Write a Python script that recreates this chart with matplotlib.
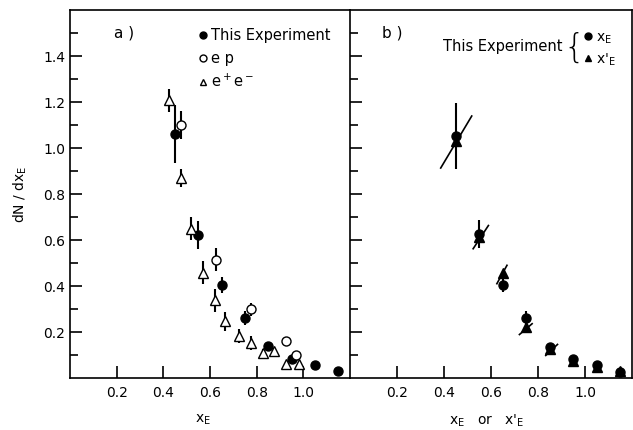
import matplotlib
matplotlib.use('Agg')
import matplotlib.pyplot as plt
from matplotlib.lines import Line2D
import numpy as np

plt.rcParams['font.family'] = ['DejaVu Sans']
plt.rcParams['mathtext.default'] = 'regular'

# panel a) -- this experiment (filled circles)
exp_x = [0.45, 0.55, 0.65, 0.75, 0.85, 0.95, 1.05, 1.15]
exp_y = [1.06, 0.623, 0.405, 0.261, 0.137, 0.084, 0.055, 0.029]
exp_err = [0.125, 0.06, 0.035, 0.03, 0.02, 0.015, 0.012, 0.008]

# e p (open circles)
ep_x = [0.476, 0.625, 0.777, 0.927, 0.97]
ep_y = [1.10, 0.514, 0.298, 0.159, 0.101]
ep_err = [0.06, 0.05, 0.03, 0.02, 0.012]

# e+ e- (open triangles)
ee_x = [0.426, 0.476, 0.52, 0.57, 0.62, 0.665, 0.726, 0.777, 0.826, 0.876, 0.927, 0.98]
ee_y = [1.207, 0.87, 0.649, 0.458, 0.337, 0.246, 0.181, 0.152, 0.109, 0.116, 0.059, 0.059]
ee_err = [0.05, 0.04, 0.05, 0.05, 0.05, 0.04, 0.03, 0.03, 0.015, 0.015, 0.012, 0.012]

# panel b) -- x_E (circles) and x'_E (triangles)
bx = [0.45, 0.55, 0.65, 0.75, 0.85, 0.95, 1.05, 1.15]
bxe_y = [1.052, 0.627, 0.403, 0.261, 0.135, 0.084, 0.055, 0.026]
bxe_err = [0.145, 0.06, 0.03, 0.03, 0.015, 0.012, 0.01, 0.008]
bxp_y = [1.029, 0.615, 0.458, 0.222, 0.128, 0.075, 0.05, 0.032]

# correlated-error lines through the x'_E points
slant_x0 = [0.386, 0.524, 0.625, 0.721, 0.833]
slant_y0 = [0.913, 0.562, 0.41, 0.189, 0.098]
slant_x1 = [0.518, 0.589, 0.668, 0.775, 0.883]
slant_y1 = [1.139, 0.663, 0.49, 0.236, 0.146]

xticks = [0.2, 0.4, 0.6, 0.8, 1.0]
xticklabels = ['0.2', '0.4', '0.6', '0.8', '1.0']
yticks = [0.2, 0.4, 0.6, 0.8, 1.0, 1.2, 1.4]
yticklabels = ['0.2', '0.4', '0.6', '0.8', '1.0', '1.2', '1.4']

fig = plt.figure(figsize=(6.33, 4.3), dpi=100)
ax1 = fig.add_axes([70 / 633, 1 - 378 / 430, 280 / 633, 368 / 430])
ax2 = fig.add_axes([350 / 633, 1 - 378 / 430, 282 / 633, 368 / 430])

fs = 10
for ax in (ax1, ax2):
    ax.set_xlim(0, 1.2)
    ax.set_ylim(0, 1.6)
    ax.set_xticks(xticks)
    ax.set_xticklabels(xticklabels, fontsize=fs)
    ax.set_yticks(yticks)
    ax.set_yticks(np.arange(0.1, 1.6, 0.2), minor=True)
    ax.tick_params(axis='both', which='major', direction='in', length=8.5, width=1.2)
    ax.tick_params(axis='y', which='minor', direction='in', length=5.5, width=1.2)
    ax.tick_params(axis='both', which='both', right=False, top=False)
    ax.tick_params(axis='x', pad=6)
    for s in ax.spines.values():
        s.set_linewidth(1.2)

ax1.set_yticklabels(yticklabels, fontsize=fs)
ax1.spines['right'].set_visible(False)
ax2.set_yticklabels([])

# panel a
ax1.errorbar(exp_x, exp_y, yerr=exp_err, fmt='o', color='k', ms=6.5,
             elinewidth=1.5, capsize=0, zorder=3)
ax1.errorbar(ep_x, ep_y, yerr=ep_err, fmt='o', mfc='white', mec='k', ecolor='k',
             ms=6.5, mew=1.0, elinewidth=1.5, capsize=0, zorder=3)
ax1.errorbar(ee_x, ee_y, yerr=ee_err, fmt='^', mfc='white', mec='k', ecolor='k',
             ms=6.5, mew=1.0, elinewidth=1.5, capsize=0, zorder=3)

ax1.text(0.23, 1.5, 'a )', fontsize=fs + 1, ha='center', va='center')
h_exp = Line2D([], [], ls='none', marker='o', color='k', ms=5)
h_ep = Line2D([], [], ls='none', marker='o', mfc='white', mec='k', ms=5)
h_ee = Line2D([], [], ls='none', marker='^', mfc='white', mec='k', ms=5)
ax1.legend([h_exp, h_ep, h_ee], ['This Experiment', 'e p', 'e$^+$e$^-$'],
           loc='upper left', bbox_to_anchor=(0.44, 0.966), frameon=False,
           handlelength=0.6, handletextpad=0.25, labelspacing=0.5,
           borderaxespad=0, fontsize=fs + 0.5)
ax1.set_ylabel('dN / dx$_E$', fontsize=fs)
ax1.yaxis.set_label_coords(-0.145, 0.5)
ax1.set_xlabel('x$_E$', fontsize=fs)
ax1.xaxis.set_label_coords(0.475, -0.095)

# panel b
for x0, y0, x1, y1 in zip(slant_x0, slant_y0, slant_x1, slant_y1):
    ax2.plot([x0, x1], [y0, y1], color='k', lw=1.2, zorder=2)
ax2.errorbar(bx, bxe_y, yerr=bxe_err, fmt='o', color='k', ms=6.5,
             elinewidth=1.5, capsize=0, zorder=3)
ax2.plot(bx, bxp_y, ls='none', marker='^', color='k', ms=6.5, zorder=3)

ax2.text(0.18, 1.5, 'b )', fontsize=fs + 1, ha='center', va='center')
ax2.text(0.395, 1.44, 'This Experiment', fontsize=fs + 0.5, ha='left', va='center')
ax2.text(0.955, 1.435, '{', fontsize=24, ha='center', va='center', fontweight='light')
h_xe = Line2D([], [], ls='none', marker='o', color='k', ms=5)
h_xp = Line2D([], [], ls='none', marker='^', color='k', ms=5)
ax2.legend([h_xe, h_xp], ['x$_E$', "x$'_E$"],
           loc='upper left', bbox_to_anchor=(0.81, 0.96), frameon=False,
           handlelength=0.6, handletextpad=0.25, labelspacing=0.4,
           borderaxespad=0, fontsize=fs)
ax2.set_xlabel("x$_E$   or   x$'_E$", fontsize=fs)
ax2.xaxis.set_label_coords(0.485, -0.095)

fig.savefig('out.png', dpi=100)
